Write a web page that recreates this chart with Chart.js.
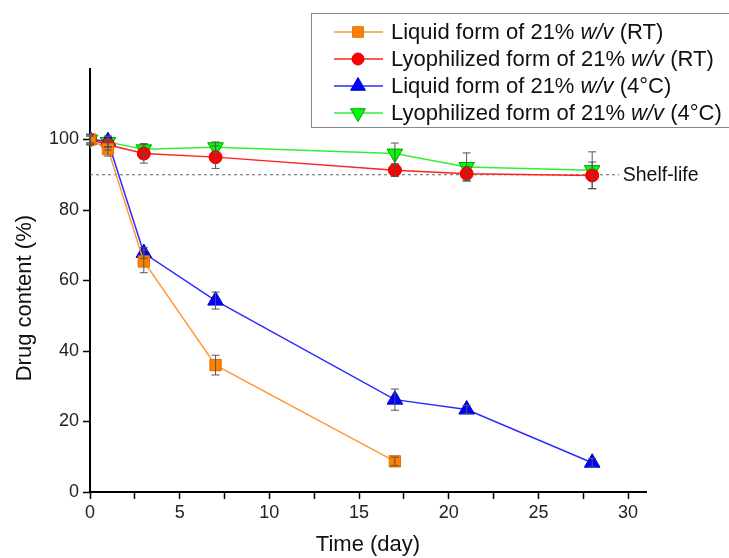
<!DOCTYPE html>
<html>
<head>
<meta charset="utf-8">
<script src="https://cdn.jsdelivr.net/npm/chart.js@4"></script>
<style>
  body { margin: 0; background: #fff; }
</style>
</head>
<body>
<canvas id="myChart" width="729" height="558"></canvas>
<script>
var days = [0, 1, 3, 7, 17, 21, 28];
var liquidRT = [100, 97.3, 65.4, 36, 8.7];
var liquidRTErr = [1.5, 2, 3.2, 2.8, 1.2];
var lyoRT = [100, 98.5, 96, 95, 91.3, 90.3, 89.8];
var lyoRTErr = [1.5, 1.5, 2.7, 3.2, 1.8, 2, 3.8];
var liquid4 = [100, 99.5, 67.8, 54.3, 26.2, 23.4, 8.3];
var liquid4Err = [1, 1.5, 1.5, 2.4, 3, 1.2, 1.2];
var lyo4 = [100, 99.3, 97.2, 97.8, 96, 92.2, 91.3];
var lyo4Err = [1, 1.5, 1.6, 1.5, 3, 4, 5.2];

var xTicks = [0, 2.5, 5, 7.5, 10, 12.5, 15, 17.5, 20, 22.5, 25, 27.5, 30];
var yTicks = [0, 20, 40, 60, 80, 100];
var shelfLife = 90;
var yTitle = "Drug content (%)";
var legendStart = ["Liquid form of 21% ", "Lyophilized form of 21% ", "Liquid form of 21% ", "Lyophilized form of 21% "];
var legendEnd = [" (RT)", " (RT)", " (4\u00b0C)", " (4\u00b0C)"];

function pts(ys) {
  return ys.map(function (y, i) { return { x: days[i], y: y }; });
}

var font = "'Liberation Sans', Arial, sans-serif";

var errorBars = {
  id: "errorBars",
  afterDatasetsDraw: function (chart) {
    var ctx = chart.ctx;
    var yScale = chart.scales.y;
    ctx.save();
    ctx.strokeStyle = "#555";
    ctx.lineWidth = 1;
    chart.data.datasets.forEach(function (ds, i) {
      if (!ds.errors) return;
      var meta = chart.getDatasetMeta(i);
      meta.data.forEach(function (p, j) {
        var v = ds.data[j].y, e = ds.errors[j];
        var top = yScale.getPixelForValue(v + e);
        var bot = yScale.getPixelForValue(v - e);
        ctx.beginPath();
        ctx.moveTo(p.x, top); ctx.lineTo(p.x, bot);
        ctx.moveTo(p.x - 4, top); ctx.lineTo(p.x + 4, top);
        ctx.moveTo(p.x - 4, bot); ctx.lineTo(p.x + 4, bot);
        ctx.stroke();
      });
    });
    ctx.restore();
  }
};

// dashed shelf-life line plus the y title (placed a bit below the axis centre, like the original)
var shelfLine = {
  id: "shelfLine",
  beforeDatasetsDraw: function (chart) {
    var ctx = chart.ctx;
    var x = chart.scales.x, y = chart.scales.y;
    var py = y.getPixelForValue(shelfLife);
    ctx.save();
    ctx.strokeStyle = "#666";
    ctx.lineWidth = 1;
    ctx.setLineDash([3, 3]);
    ctx.beginPath();
    ctx.moveTo(x.getPixelForValue(0), py);
    ctx.lineTo(x.getPixelForValue(29.5), py);
    ctx.stroke();
    ctx.setLineDash([]);
    ctx.fillStyle = "#111";
    ctx.font = "19.5px " + font;
    ctx.textBaseline = "middle";
    ctx.fillText("Shelf-life", x.getPixelForValue(29.7), py + 1);

    ctx.translate(25, y.getPixelForValue(55));
    ctx.rotate(-Math.PI / 2);
    ctx.textAlign = "center";
    ctx.font = "22px " + font;
    ctx.fillText(yTitle, 0, 0);
    ctx.restore();
  }
};

var boxLegend = {
  id: "boxLegend",
  afterDraw: function (chart) {
    var ctx = chart.ctx;
    ctx.save();
    ctx.fillStyle = "#fff";
    ctx.fillRect(311, 13, 430, 114);
    ctx.strokeStyle = "#888";
    ctx.lineWidth = 1;
    ctx.strokeRect(311.5, 13.5, 430, 114);
    var rows = [32, 59, 86, 113];
    chart.data.datasets.forEach(function (ds, i) {
      var ry = rows[i];
      ctx.strokeStyle = ds.borderColor;
      ctx.lineWidth = 1.5;
      ctx.beginPath();
      ctx.moveTo(334, ry); ctx.lineTo(383, ry);
      ctx.stroke();
      ctx.fillStyle = ds.pointBackgroundColor;
      ctx.strokeStyle = ds.pointBorderColor;
      ctx.lineWidth = 1;
      Chart.helpers.drawPoint(ctx, {
        pointStyle: ds.pointStyle, radius: ds.pointRadius - 0.5,
        rotation: ds.pointRotation || 0, borderWidth: 1
      }, 358, ry);
      ctx.fillStyle = "#111";
      ctx.textBaseline = "middle";
      var tx = 391;
      ctx.font = "22px " + font;
      ctx.fillText(legendStart[i], tx, ry + 1);
      tx += ctx.measureText(legendStart[i]).width;
      ctx.font = "italic 22px " + font;
      ctx.fillText("w/v", tx, ry + 1);
      tx += ctx.measureText("w/v").width;
      ctx.font = "22px " + font;
      ctx.fillText(legendEnd[i], tx, ry + 1);
    });
    ctx.restore();
  }
};

new Chart("myChart", {
  type: "line",
  data: {
    datasets: [{
      data: pts(liquidRT),
      errors: liquidRTErr,
      borderColor: "#FF9933",
      borderWidth: 1.5,
      pointStyle: "rect",
      pointRadius: 8,
      pointBackgroundColor: "#FF8000",
      pointBorderColor: "#E07000",
      pointBorderWidth: 1
    }, {
      data: pts(lyoRT),
      errors: lyoRTErr,
      borderColor: "#FF2020",
      borderWidth: 1.5,
      pointStyle: "circle",
      pointRadius: 6.5,
      pointBackgroundColor: "#FF0000",
      pointBorderColor: "#E00000",
      pointBorderWidth: 1
    }, {
      data: pts(liquid4),
      errors: liquid4Err,
      borderColor: "#2B2BFF",
      borderWidth: 1.5,
      pointStyle: "triangle",
      pointRadius: 9,
      pointBackgroundColor: "#0000FF",
      pointBorderColor: "#0000CC",
      pointBorderWidth: 1
    }, {
      data: pts(lyo4),
      errors: lyo4Err,
      borderColor: "#33EE33",
      borderWidth: 1.5,
      pointStyle: "triangle",
      pointRotation: 180,
      pointRadius: 9,
      pointBackgroundColor: "#00FF00",
      pointBorderColor: "#00A000",
      pointBorderWidth: 1
    }]
  },
  options: {
    responsive: false,
    animation: false,
    layout: { padding: { left: 0, top: 69, right: 83, bottom: 0 } },
    plugins: {
      legend: { display: false },
      tooltip: { enabled: false }
    },
    scales: {
      x: {
        type: "linear",
        min: 0,
        max: 31,
        afterFit: function (s) { s.height = 66; },
        afterBuildTicks: function (s) {
          s.ticks = xTicks.map(function (v) { return { value: v }; });
        },
        ticks: {
          autoSkip: false,
          maxRotation: 0,
          padding: 3,
          color: "#222",
          font: { family: font, size: 18 },
          callback: function (v) { return v % 5 === 0 ? v : ""; }
        },
        grid: {
          drawOnChartArea: false,
          drawTicks: true,
          tickLength: 7,
          tickColor: "#000",
          tickWidth: 1.5
        },
        border: { color: "#000", width: 2 },
        title: {
          display: true,
          text: "Time (day)",
          color: "#111",
          font: { family: font, size: 22 },
          padding: { top: 0, bottom: 0 }
        }
      },
      y: {
        min: 0,
        max: 120,
        afterFit: function (s) { s.width = 90; },
        afterBuildTicks: function (s) {
          s.ticks = yTicks.map(function (v) { return { value: v }; });
        },
        ticks: {
          padding: 4,
          color: "#222",
          font: { family: font, size: 18 }
        },
        grid: {
          drawOnChartArea: false,
          drawTicks: true,
          tickLength: 7,
          tickColor: "#000",
          tickWidth: 1.5
        },
        border: { color: "#000", width: 2 }
      }
    }
  },
  plugins: [shelfLine, errorBars, boxLegend]
});
</script>
</body>
</html>
